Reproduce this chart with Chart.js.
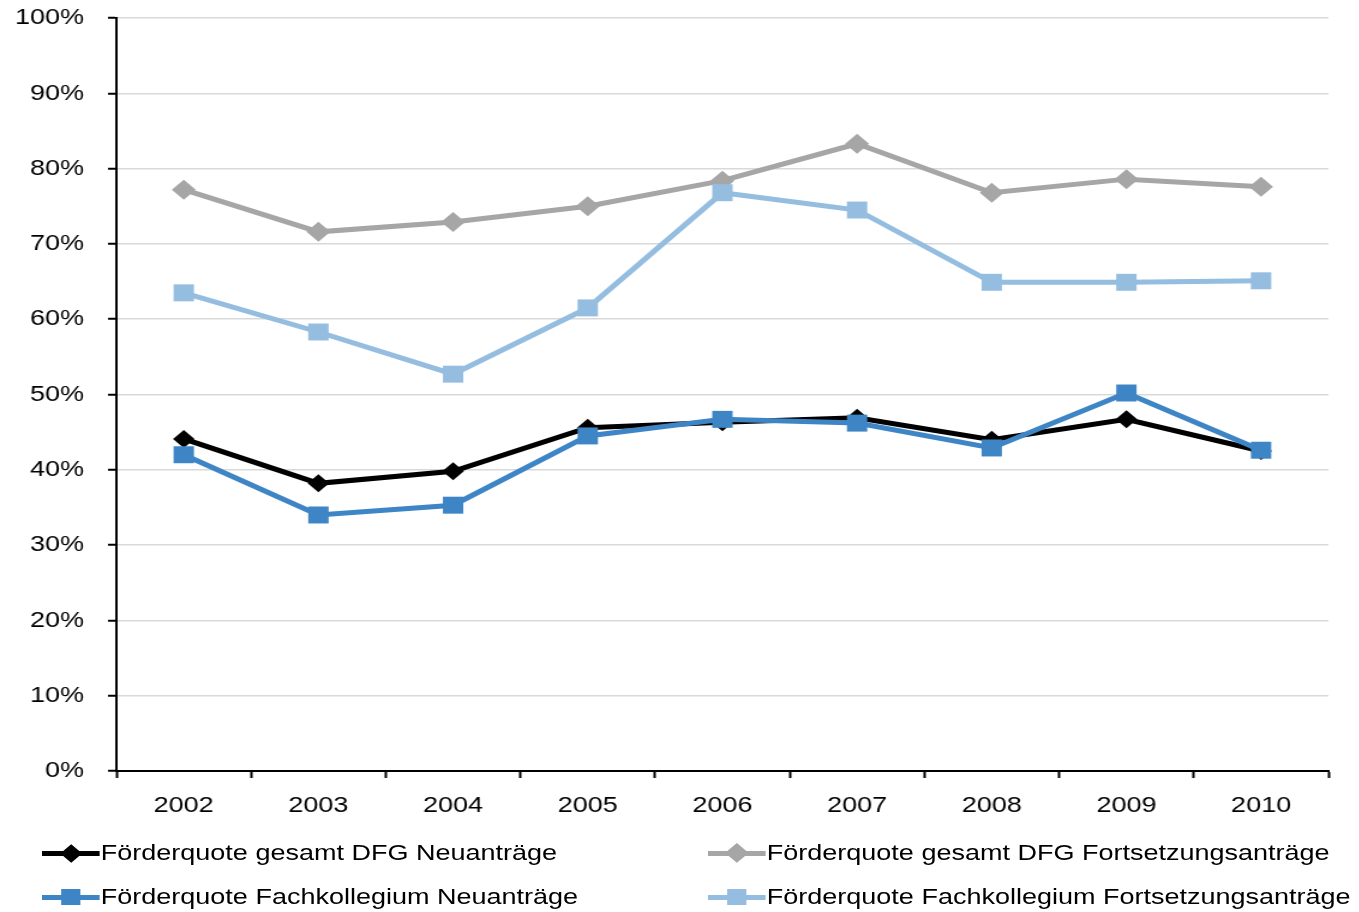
<!DOCTYPE html>
<html>
<head>
<meta charset="utf-8">
<script src="https://cdn.jsdelivr.net/npm/chart.js@4.4.1/dist/chart.umd.min.js"></script>
<style>
  body { margin: 0; background: #fff; overflow: hidden; }
  /* the reference is stretched sideways, so draw narrow and widen */
  #stage { position: absolute; left: 0; top: 0; width: 1133px; height: 912px;
           transform: scaleX(1.2); transform-origin: 0 0; }
  #chart { position: absolute; left: 0; top: 0; }
  .item { position: absolute; height: 26px; display: flex; align-items: center;
          font: 22.5px "Liberation Sans", Arial, sans-serif; color: #000; white-space: nowrap; }
  .sample { position: relative; width: 48px; height: 26px; margin-right: 1px; }
  .ln { position: absolute; left: 0; right: 0; top: 10.5px; height: 5px; }
  .mk { position: absolute; left: 50%; top: 50%; }
</style>
</head>
<body>
<div id="stage">
  <canvas id="chart" width="1133" height="830"></canvas>
  <div id="legend"></div>
</div>
<script>
// data
const years = ['2002', '2003', '2004', '2005', '2006', '2007', '2008', '2009', '2010'];
const gesamtNeu  = [44.1, 38.2, 39.8, 45.6, 46.3, 46.9, 44.0, 46.7, 42.5];
const gesamtFort = [77.2, 71.6, 72.9, 75.0, 78.4, 83.3, 76.8, 78.6, 77.6];
const fachNeu    = [42.0, 34.0, 35.3, 44.5, 46.7, 46.2, 42.9, 50.2, 42.6];
const fachFort   = [63.5, 58.3, 52.7, 61.5, 76.8, 74.5, 64.9, 64.9, 65.1];

const seriesNames = [
    'Förderquote gesamt DFG Neuanträge',
    'Förderquote gesamt DFG Fortsetzungsanträge',
    'Förderquote Fachkollegium Neuanträge',
    'Förderquote Fachkollegium Fortsetzungsanträge'
];
const seriesColors = ['#000000', '#a6a6a6', '#3e85c6', '#95bde0'];
const seriesStyles = ['rectRot', 'rectRot', 'rect', 'rect'];
const seriesRadius = [9, 10, 12, 12];
const seriesValues = [gesamtNeu, gesamtFort, fachNeu, fachFort];

const FONT = { family: '"Liberation Sans", Arial, sans-serif', size: 22.5 };

const datasets = seriesNames.map((name, i) => ({
    label: name,
    data: seriesValues[i],
    borderColor: seriesColors[i],
    backgroundColor: seriesColors[i],
    pointBackgroundColor: seriesColors[i],
    pointBorderColor: seriesColors[i],
    pointBorderWidth: 0,
    pointStyle: seriesStyles[i],
    pointRadius: seriesRadius[i],
    pointHoverRadius: seriesRadius[i],
    borderWidth: 5,
    tension: 0,
    order: i >= 2 ? 0 : 1   // Fachkollegium lines sit on top
}));

new Chart(document.getElementById('chart'), {
    type: 'line',
    data: { labels: years, datasets: datasets },
    options: {
        responsive: false,
        animation: false,
        devicePixelRatio: 1,
        layout: { padding: { top: 18, right: 26, left: 0, bottom: 0 } },
        plugins: { legend: { display: false }, tooltip: { enabled: false } },
        scales: {
            x: {
                offset: true,
                grid: { offset: true, drawOnChartArea: false, drawTicks: true,
                        tickLength: 7, tickColor: '#000', tickWidth: 2 },
                border: { color: '#000', width: 2 },
                ticks: { color: '#000', font: FONT, padding: 14, maxRotation: 0 },
                afterFit: (s) => { s.height = 59; }
            },
            y: {
                min: 0, max: 100,
                grid: { color: '#d9d9d9', lineWidth: 1.5, tickLength: 7,
                        tickColor: '#000', tickWidth: 2 },
                border: { color: '#000', width: 2 },
                ticks: { stepSize: 10, color: '#000', font: FONT, padding: 20,
                         callback: (v) => v + '%' },
                // fixed width, and no extra room reserved above the top label
                afterFit: (s) => { s.width = 97; s.paddingTop = 0; s.paddingBottom = 0; }
            }
        }
    }
});

// legend, two columns like the original
const legendPos = [
    { left: 35, top: 840 }, { left: 590, top: 840 },
    { left: 35, top: 884 }, { left: 590, top: 884 }
];
const legend = document.getElementById('legend');
seriesNames.forEach((name, i) => {
    const item = document.createElement('div');
    item.className = 'item';
    item.style.left = legendPos[i].left + 'px';
    item.style.top = legendPos[i].top + 'px';
    const side = seriesRadius[i] * Math.SQRT2;
    let mk = `width:${side}px;height:${side}px;margin:${-side / 2}px 0 0 ${-side / 2}px;`;
    if (seriesStyles[i] === 'rectRot') mk += 'transform:rotate(45deg);';
    item.innerHTML = `
        <span class="sample">
            <span class="ln" style="background:${seriesColors[i]}"></span>
            <span class="mk" style="${mk}background:${seriesColors[i]}"></span>
        </span>
        <span>${name}</span>`;
    legend.appendChild(item);
});
</script>
</body>
</html>
